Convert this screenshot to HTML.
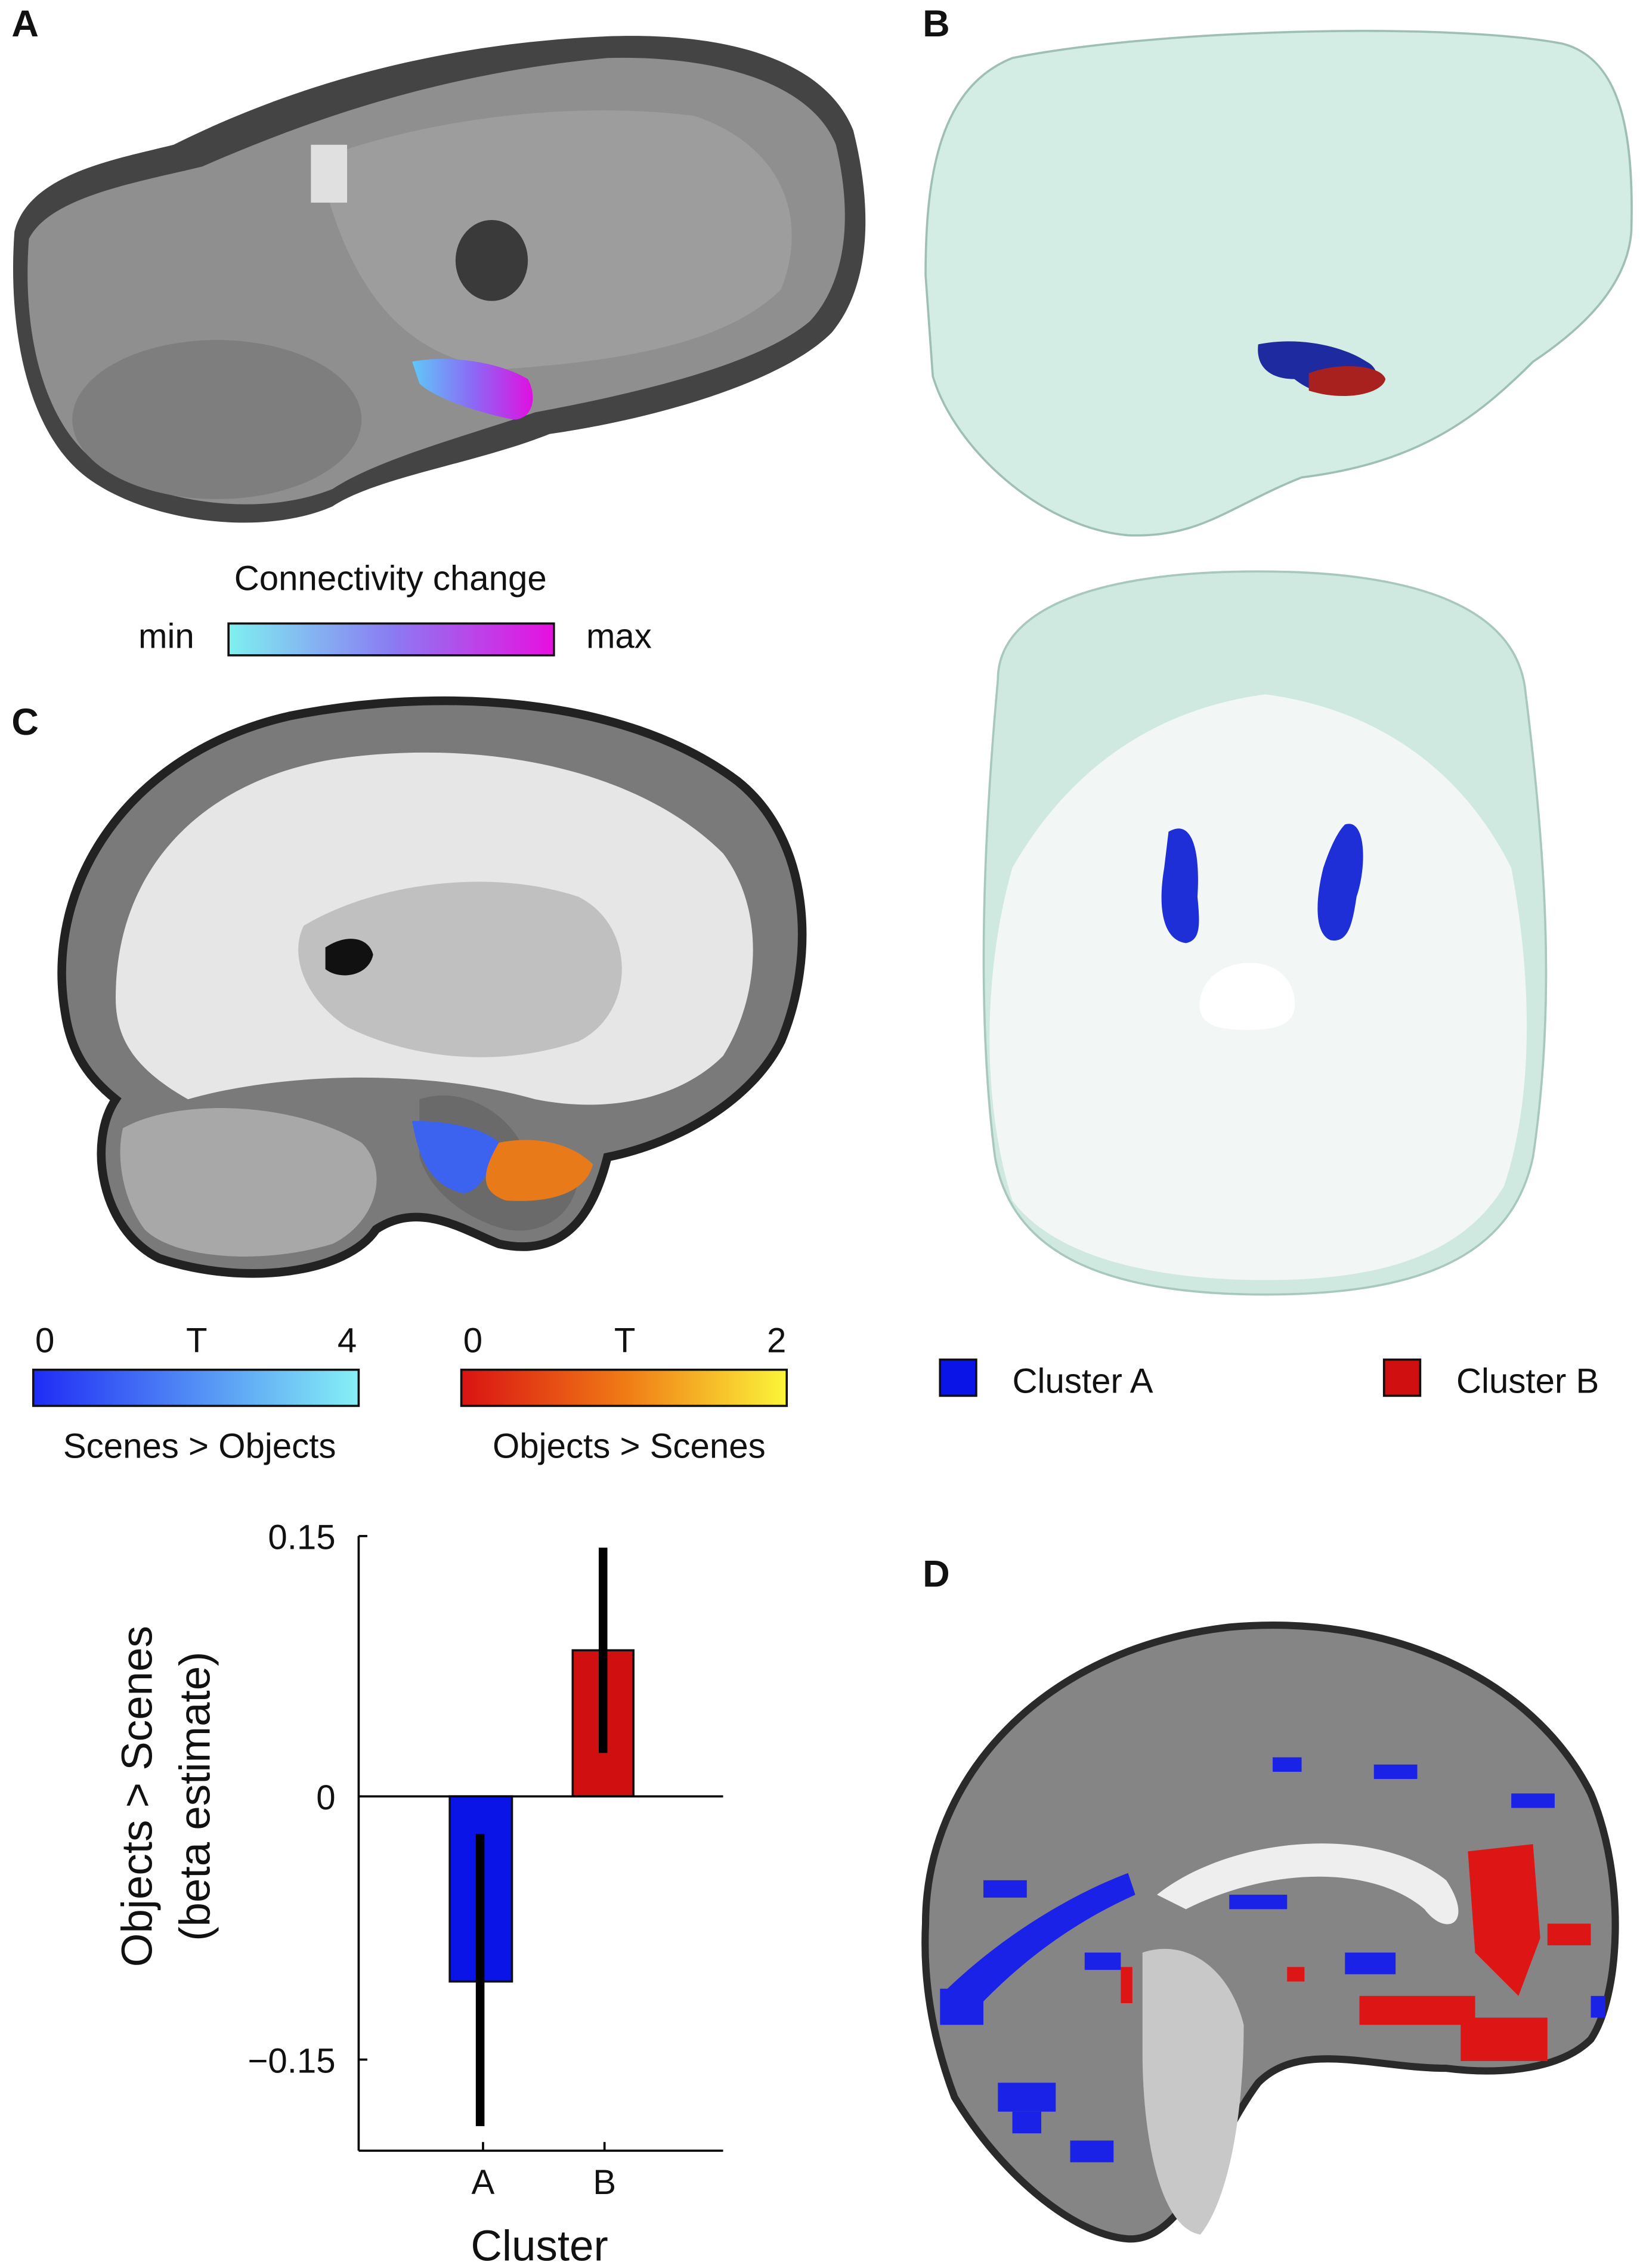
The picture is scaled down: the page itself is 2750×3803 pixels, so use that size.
<!DOCTYPE html>
<html><head><meta charset="utf-8"><style>
html,body{margin:0;padding:0;background:#fff}
svg{display:block}
text{font-family:"Liberation Sans",sans-serif;fill:#111}
</style></head><body>
<svg width="2750" height="3803" viewBox="0 0 1134 1568" xmlns="http://www.w3.org/2000/svg">
<defs>
<linearGradient id="g1" x1="0" x2="1"><stop offset="0" stop-color="#7ff0f0"/><stop offset="0.5" stop-color="#8a7cf2"/><stop offset="1" stop-color="#e80fe0"/></linearGradient>
<linearGradient id="g2" x1="0" x2="1"><stop offset="0" stop-color="#1f2cf5"/><stop offset="1" stop-color="#86f0f5"/></linearGradient>
<linearGradient id="g3" x1="0" x2="1"><stop offset="0" stop-color="#d91313"/><stop offset="0.5" stop-color="#f07a15"/><stop offset="1" stop-color="#fbf53a"/></linearGradient>
<linearGradient id="gb" x1="0" x2="1"><stop offset="0" stop-color="#5fc8f8"/><stop offset="0.5" stop-color="#8a6af5"/><stop offset="1" stop-color="#e010e0"/></linearGradient>
</defs>
<g font-weight="bold" font-size="26">
<text x="8" y="25">A</text><text x="638" y="25">B</text><text x="8" y="508">C</text><text x="638" y="1097">D</text>
</g>
<!-- Panel A -->
<path d="M10,160 C20,120 80,110 120,100 C200,60 300,30 420,25 C500,22 570,40 590,90 C605,150 600,200 575,230 C540,265 450,290 380,300 C330,320 260,330 230,350 C180,372 100,360 60,330 C20,300 5,230 10,160 Z" fill="#444"/>
<path d="M20,165 C35,135 100,125 140,115 C220,80 310,50 420,40 C490,38 560,55 578,100 C590,150 585,195 560,222 C525,252 440,272 370,285 C320,302 260,318 230,338 C180,358 110,348 70,322 C30,295 15,230 20,165 Z" fill="#8f8f8f"/>
<path d="M220,110 C300,80 400,70 480,80 C540,100 560,150 540,200 C500,240 420,250 350,255 C280,250 240,200 220,110 Z" fill="#9d9d9d"/>
<ellipse cx="150" cy="290" rx="100" ry="55" fill="#7e7e7e"/>
<ellipse cx="340" cy="180" rx="25" ry="28" fill="#3a3a3a"/>
<rect x="215" y="100" width="25" height="40" fill="#e0e0e0"/>
<path d="M285,250 C310,245 345,250 365,262 C372,275 368,290 355,290 C330,285 300,275 290,265 Z" fill="url(#gb)"/>
<text x="270" y="408" font-size="24" text-anchor="middle">Connectivity change</text>
<text x="115" y="448" font-size="24" text-anchor="middle">min</text>
<rect x="158" y="431" width="225" height="22" fill="url(#g1)" stroke="#111" stroke-width="1.5"/>
<text x="428" y="448" font-size="24" text-anchor="middle">max</text>
<!-- Panel B top -->
<path d="M640,190 C640,120 650,60 700,40 C800,20 1000,15 1080,30 C1120,40 1130,90 1128,160 C1125,200 1090,230 1060,250 C1020,290 980,320 900,330 C850,350 830,372 780,370 C720,365 660,310 645,260 Z" fill="#d3ece4" stroke="#9fbfb5" stroke-width="1.5"/>
<path d="M870,238 C900,232 930,240 945,250 C955,255 955,268 940,272 C920,276 905,270 895,262 C880,262 868,255 870,238 Z" fill="#1e2aa0"/>
<path d="M905,258 C925,250 955,252 958,262 C956,272 930,278 905,270 Z" fill="#a8211f"/>
<!-- Panel B bottom -->
<path d="M690,470 C690,420 760,395 870,395 C980,395 1050,420 1055,480 C1070,600 1075,700 1060,800 C1045,870 980,895 875,895 C770,895 700,870 688,800 C675,700 680,580 690,470 Z" fill="#cfe9e0" stroke="#a8c8bd" stroke-width="1.5"/>
<path d="M700,600 C740,530 800,490 875,480 C950,490 1010,530 1045,600 C1060,680 1060,760 1040,820 C1010,870 950,885 875,885 C800,885 730,870 700,830 C678,760 680,670 700,600 Z" fill="#f2f7f5"/>
<path d="M830,690 C835,660 890,655 895,690 C898,710 880,712 862,712 C845,712 826,710 830,690 Z" fill="#fff"/>
<path d="M808,575 C825,565 830,590 828,620 C830,640 830,650 820,652 C805,650 800,630 805,600 Z" fill="#1f2fd8"/>
<path d="M930,570 C945,565 945,600 938,620 C935,640 932,652 920,650 C908,645 910,620 915,600 C920,585 925,575 930,570 Z" fill="#1f2fd8"/>
<!-- Panel C -->
<path d="M45,700 C30,610 90,520 200,495 C300,475 430,480 510,540 C560,580 565,660 540,720 C520,760 470,790 420,800 C410,840 390,870 345,860 C320,850 290,830 260,850 C240,880 170,890 110,870 C70,850 60,790 80,760 C55,740 48,720 45,700 Z" fill="#7a7a7a" stroke="#222" stroke-width="6"/>
<path d="M80,690 C80,600 140,540 230,525 C330,510 440,530 500,590 C530,630 525,690 500,730 C470,760 420,770 370,760 C300,740 200,740 130,760 C95,740 80,720 80,690 Z" fill="#e6e6e6"/>
<path d="M210,640 C260,610 340,600 400,620 C440,640 440,700 400,720 C340,740 280,730 240,710 C210,690 200,660 210,640 Z" fill="#c0c0c0"/>
<path d="M225,655 C240,645 255,648 258,660 C255,675 235,678 225,670 Z" fill="#111"/>
<path d="M85,780 C120,760 200,760 250,790 C270,810 260,845 230,860 C180,875 120,870 100,850 C85,830 80,800 85,780 Z" fill="#a8a8a8"/>
<path d="M290,760 C320,750 350,770 360,790 L400,810 C400,835 380,855 350,850 C330,845 300,830 290,800 Z" fill="#6a6a6a"/>
<path d="M285,775 C310,775 335,780 345,790 C340,810 330,825 320,825 C300,820 290,805 285,775 Z" fill="#3b63f0"/>
<path d="M345,790 C370,785 395,790 410,805 C405,825 380,832 350,830 C335,825 330,815 345,790 Z" fill="#e87a1a"/>
<text x="31" y="935" font-size="24" text-anchor="middle">0</text>
<text x="136" y="935" font-size="24" text-anchor="middle">T</text>
<text x="240" y="935" font-size="24" text-anchor="middle">4</text>
<rect x="23" y="947" width="225" height="25" fill="url(#g2)" stroke="#111" stroke-width="1.5"/>
<text x="327" y="935" font-size="24" text-anchor="middle">0</text>
<text x="432" y="935" font-size="24" text-anchor="middle">T</text>
<text x="537" y="935" font-size="24" text-anchor="middle">2</text>
<rect x="319" y="947" width="225" height="25" fill="url(#g3)" stroke="#111" stroke-width="1.5"/>
<text x="138" y="1008" font-size="24" text-anchor="middle">Scenes &gt; Objects</text>
<text x="435" y="1008" font-size="24" text-anchor="middle">Objects &gt; Scenes</text>
<rect x="650" y="940" width="25" height="25" fill="#0a14e6" stroke="#111" stroke-width="1.5"/>
<text x="700" y="963" font-size="24">Cluster A</text>
<rect x="957" y="940" width="25" height="25" fill="#d01010" stroke="#111" stroke-width="1.5"/>
<text x="1007" y="963" font-size="24">Cluster B</text>
<!-- bar chart -->
<rect x="311" y="1242" width="43" height="128" fill="#0a14e6" stroke="#111" stroke-width="1.5"/>
<rect x="396" y="1141" width="42" height="101" fill="#d01010" stroke="#111" stroke-width="1.5"/>
<line x1="332" y1="1268" x2="332" y2="1470" stroke="#000" stroke-width="6"/>
<line x1="417" y1="1070" x2="417" y2="1212" stroke="#000" stroke-width="6"/>
<g stroke="#000" stroke-width="1.5" fill="none">
<line x1="248" y1="1062" x2="248" y2="1487"/>
<line x1="248" y1="1487" x2="500" y2="1487"/>
<line x1="248" y1="1242" x2="500" y2="1242"/>
<line x1="248" y1="1062" x2="254" y2="1062"/><line x1="248" y1="1424" x2="254" y2="1424"/>
<line x1="334" y1="1487" x2="334" y2="1481"/><line x1="418" y1="1487" x2="418" y2="1481"/>
</g>
<text x="232" y="1071" font-size="24" text-anchor="end">0.15</text>
<text x="232" y="1251" font-size="24" text-anchor="end">0</text>
<text x="232" y="1433" font-size="24" text-anchor="end">−0.15</text>
<text x="334" y="1517" font-size="24" text-anchor="middle">A</text>
<text x="418" y="1517" font-size="24" text-anchor="middle">B</text>
<text x="373" y="1563" font-size="30" text-anchor="middle">Cluster</text>
<text transform="translate(105,1242) rotate(-90)" font-size="30" text-anchor="middle">Objects &gt; Scenes</text>
<text transform="translate(145,1242) rotate(-90)" font-size="30" text-anchor="middle">(beta estimate)</text>
<!-- Panel D -->
<path d="M640,1330 C640,1230 720,1140 850,1125 C960,1115 1060,1160 1100,1240 C1125,1300 1120,1380 1100,1410 C1080,1430 1040,1435 1000,1430 C950,1430 900,1410 870,1440 C840,1480 820,1550 780,1548 C740,1545 690,1500 660,1450 C645,1410 638,1370 640,1330 Z" fill="#858585" stroke="#2a2a2a" stroke-width="5"/>
<path d="M800,1310 C850,1270 950,1260 1000,1300 C1020,1330 1000,1340 985,1320 C950,1290 880,1290 820,1320 Z" fill="#eee"/>
<path d="M790,1350 C820,1340 850,1360 860,1400 C860,1460 850,1520 830,1545 C800,1540 790,1470 790,1420 Z" fill="#c8c8c8"/>
<g fill="#1a22e8">
<path d="M650,1380 C690,1340 740,1310 780,1295 L785,1310 C740,1330 700,1360 665,1400 Z"/>
<rect x="650" y="1375" width="30" height="25"/><rect x="680" y="1300" width="30" height="12"/>
<rect x="850" y="1310" width="40" height="10"/><rect x="930" y="1350" width="35" height="15"/>
<rect x="950" y="1220" width="30" height="10"/><rect x="1045" y="1240" width="30" height="10"/>
<rect x="690" y="1440" width="40" height="20"/><rect x="740" y="1480" width="30" height="15"/>
<rect x="1100" y="1380" width="10" height="15"/><rect x="700" y="1460" width="20" height="15"/>
<rect x="880" y="1215" width="20" height="10"/><rect x="750" y="1350" width="25" height="12"/>
</g>
<g fill="#dd1515">
<path d="M1015,1280 L1060,1275 L1065,1340 L1050,1380 L1020,1350 Z"/>
<rect x="940" y="1380" width="80" height="20"/><rect x="1010" y="1395" width="60" height="30"/>
<rect x="890" y="1360" width="12" height="10"/><rect x="775" y="1360" width="8" height="25"/>
<rect x="1070" y="1330" width="30" height="15"/>
</g>
</svg>
</body></html>
